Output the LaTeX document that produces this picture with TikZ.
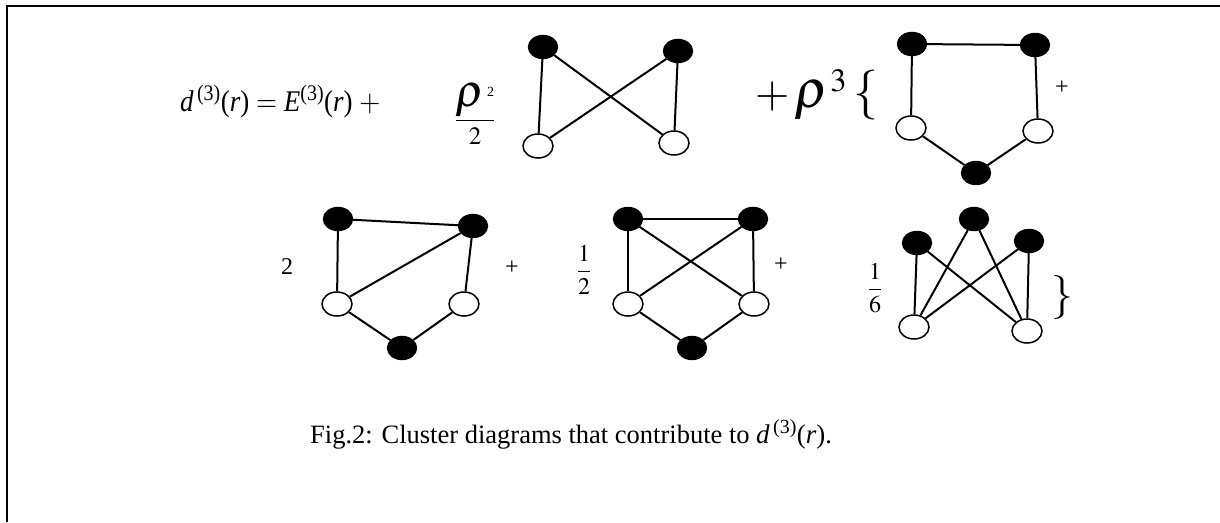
\documentclass[tikz,border=0pt]{standalone}
\usepackage{amsmath}
\usepackage{mathptmx}
\usepackage{fontspec}
\setmainfont{Liberation Serif}
\usetikzlibrary{shapes.geometric}

\begin{document}
\begin{tikzpicture}[
  x=1pt,y=-1pt,
  full/.style={ellipse,draw=black,fill=black,line width=1.4pt,minimum width=29pt,minimum height=23pt,inner sep=0pt},
  hollow/.style={ellipse,draw=black,fill=white,line width=1.5pt,minimum width=30pt,minimum height=24pt,inner sep=0pt},
  bond/.style={line width=2pt},
  lbl/.style={inner sep=0pt,font=\fontsize{24}{24}\selectfont}
]
\useasboundingbox (0,0) rectangle (1220,522);
\draw[line width=2pt] (1220,6) -- (7,6) -- (7,522);

\node[inner sep=0pt,anchor=base west,xscale=0.9,transform shape,font=\fontsize{30}{30}\selectfont] (eq) at (180,111) {\textit{d}\textsuperscript{\,(3)}(\textit{r}) $=$ \textit{E}\textsuperscript{(3)}(\textit{r}) $+$};
\node[inner sep=0pt,font=\fontsize{25}{25}\selectfont] (rho2) at (475,114) {$\dfrac{\text{\fontsize{46}{46}\selectfont$\rho$\kern2pt\raisebox{10pt}{\fontsize{14}{14}\selectfont 2}}}{2}$};
\node[inner sep=0pt,anchor=base west,font=\fontsize{44}{44}\selectfont] (rho3) at (755,107) {$+\,\text{\fontsize{54}{54}\selectfont$\rho$}\kern2pt^{3}\kern6pt\text{\fontsize{50}{50}\selectfont$\{$}$};

\node[full] (a1) at (543,47) {};
\node[full] (a2) at (678,51) {};
\node[hollow] (a3) at (538,146) {};
\node[hollow] (a4) at (674,143) {};
\draw[bond] (a1) -- (a3);
\draw[bond] (a2) -- (a4);
\draw[bond] (a1) -- (a4);
\draw[bond] (a2) -- (a3);

\node[full] (b1) at (912,44) {};
\node[full] (b2) at (1035,45) {};
\node[hollow] (b3) at (911,128) {};
\node[hollow] (b4) at (1038,131) {};
\node[full] (b5) at (976,173) {};
\draw[bond] (b1) -- (b2);
\draw[bond] (b1) -- (b3);
\draw[bond] (b2) -- (b4);
\draw[bond] (b3) -- (b5);
\draw[bond] (b4) -- (b5);
\node[lbl] (pb) at (1062,88) {+};

\node[lbl] (two) at (287,267) {2};
\node[full] (c1) at (338,219) {};
\node[full] (c2) at (473,226) {};
\node[hollow] (c3) at (337,304) {};
\node[hollow] (c4) at (464,304) {};
\node[full] (c5) at (402,348) {};
\draw[bond] (c1) -- (c2);
\draw[bond] (c1) -- (c3);
\draw[bond] (c2) -- (c4);
\draw[bond] (c2) -- (c3);
\draw[bond] (c3) -- (c5);
\draw[bond] (c4) -- (c5);
\node[lbl] (pc) at (512,268) {+};

\node[lbl] (half) at (584,270) {$\dfrac{1}{2}$};
\node[full] (d1) at (628,219) {};
\node[full] (d2) at (753,219) {};
\node[hollow] (d3) at (628,304) {};
\node[hollow] (d4) at (754,304) {};
\node[full] (d5) at (692,348) {};
\draw[bond] (d1) -- (d2);
\draw[bond] (d1) -- (d3);
\draw[bond] (d2) -- (d4);
\draw[bond] (d1) -- (d4);
\draw[bond] (d2) -- (d3);
\draw[bond] (d3) -- (d5);
\draw[bond] (d4) -- (d5);
\node[lbl] (pd) at (781,265) {+};

\node[lbl] (sixth) at (875,288) {$\dfrac{1}{6}$};
\node[full] (e1) at (917,243) {};
\node[full] (e2) at (974,219) {};
\node[full] (e3) at (1029,241) {};
\node[hollow] (e4) at (914,327) {};
\node[hollow] (e5) at (1027,331) {};
\foreach \t in {e1,e2,e3}
  \foreach \h in {e4,e5}
    \draw[bond] (\t) -- (\h);
\node[inner sep=0pt,font=\fontsize{44}{44}\selectfont] (brace) at (1062,298) {$\}$};

\node[inner sep=0pt,anchor=base west,font=\fontsize{26.5}{26.5}\selectfont] (cap) at (310,443) {Fig.2: Cluster diagrams that contribute to {\fontsize{27}{27}\selectfont\textit{d}\textsuperscript{\,(3)}(\textit{r})}.};
\end{tikzpicture}
\end{document}
